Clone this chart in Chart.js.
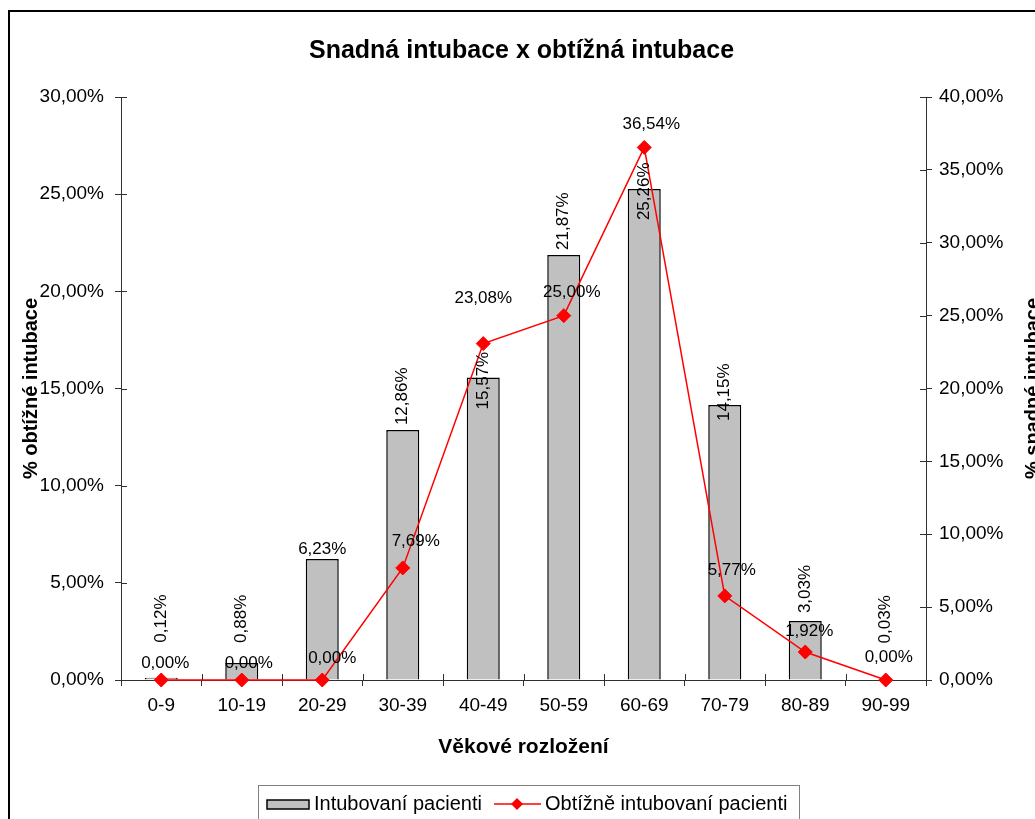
<!DOCTYPE html>
<html><head><meta charset="utf-8">
<script src="https://cdn.jsdelivr.net/npm/chart.js@4.4.1/dist/chart.umd.min.js"></script>
<style>html,body{margin:0;padding:0;background:#fff;overflow:hidden}#wrap{position:relative;width:1035px;height:819px}</style>
</head><body><div id="wrap"><canvas id="c"></canvas></div>
<script>
const chartTitle = 'Snadná intubace x obtížná intubace';
const xTitle = 'Věkové rozložení';
const yLeftTitle = '% obtížné intubace';
const yRightTitle = '% snadné intubace';
const seriesNames = ['Intubovaní pacienti', 'Obtížně intubovaní pacienti'];
const categories = ['0-9','10-19','20-29','30-39','40-49','50-59','60-69','70-79','80-89','90-99'];
const intubovani = [0.12, 0.88, 6.23, 12.86, 15.57, 21.87, 25.26, 14.15, 3.03, 0.03];
const obtizne = [0.00, 0.00, 0.00, 7.69, 23.08, 25.00, 36.54, 5.77, 1.92, 0.00];
const leftMax = 30, rightMax = 40, tickStep = 5;

// label placement tweaks (px), not data
const barLabelAngle = [-90,-90,0,-90,-90,-90,-90,-90,-90,-90];
const barLabelShift = [-29,-14,0,1,38,1,37,22,-2,-30];
const lineLabelDx = [4,7,10,13,0,8,7,7,4,3];
const lineLabelDy = [-17,-17,-22,-27,-45,-23,-23,-26,-21,-23];

const FONT = "'Liberation Sans', Arial, sans-serif";
const AXIS = '#303030';
const fmt = v => v.toFixed(2).replace('.', ',') + '%';

const decor = {
  id: 'decor',
  beforeDraw(chart) {
    const ctx = chart.ctx;
    ctx.save();
    ctx.fillStyle = '#fff';
    ctx.fillRect(0, 0, chart.width, chart.height);
    ctx.strokeStyle = '#000';
    ctx.lineWidth = 2;
    ctx.strokeRect(9, 11, chart.width + 20, chart.height + 20);
    ctx.restore();
  },
  afterDatasetsDraw(chart) {
    const ctx = chart.ctx;
    ctx.save();
    ctx.fillStyle = '#000';
    ctx.font = '17px ' + FONT;
    const bm = chart.getDatasetMeta(0);
    bm.data.forEach((el, i) => {
      const t = fmt(intubovani[i]);
      ctx.save();
      if (barLabelAngle[i] === -90) {
        ctx.translate(el.x, el.y - 6 + barLabelShift[i]);
        ctx.rotate(-Math.PI / 2);
        ctx.textAlign = 'left';
        ctx.textBaseline = 'middle';
        ctx.fillText(t, 0, 0);
      } else {
        ctx.textAlign = 'center';
        ctx.textBaseline = 'middle';
        ctx.fillText(t, el.x, el.y - 10 + barLabelShift[i]);
      }
      ctx.restore();
    });
    const lm = chart.getDatasetMeta(1);
    ctx.textAlign = 'center';
    ctx.textBaseline = 'middle';
    lm.data.forEach((el, i) => {
      ctx.fillText(fmt(obtizne[i]), el.x + lineLabelDx[i], el.y + lineLabelDy[i]);
    });
    ctx.restore();
  },
  afterDraw(chart) {
    const ctx = chart.ctx;
    const a = chart.chartArea;
    ctx.save();
    ctx.strokeStyle = AXIS;
    ctx.lineWidth = 1;
    ctx.beginPath();
    const yl = chart.scales.y, yr = chart.scales.y1, xs = chart.scales.x;
    yl.ticks.forEach((t, i) => { const p = Math.round(yl.getPixelForTick(i)) + 0.5; ctx.moveTo(a.left, p); ctx.lineTo(a.left + 6, p); });
    yr.ticks.forEach((t, i) => { const p = Math.round(yr.getPixelForTick(i)) + 0.5; ctx.moveTo(a.right - 6, p); ctx.lineTo(a.right, p); });
    for (let i = 0; i <= categories.length; i++) {
      const p = Math.round(xs.getPixelForValue(i - 0.5)) + 0.5;
      ctx.moveTo(p, a.bottom - 6); ctx.lineTo(p, a.bottom);
    }
    ctx.stroke();
    ctx.fillStyle = '#000';
    ctx.font = 'bold 20px ' + FONT;
    ctx.translate(1033, (a.top + a.bottom) / 2);
    ctx.rotate(-Math.PI / 2);
    ctx.textAlign = 'center';
    ctx.textBaseline = 'middle';
    ctx.fillText(yRightTitle, 0, 0);
    ctx.restore();
    // legend
    ctx.save();
    const ds = chart.data.datasets;
    ctx.strokeStyle = '#808080';
    ctx.lineWidth = 1;
    ctx.strokeRect(258.5, 785.5, 541, 60);
    const cy = 804;
    ctx.fillStyle = ds[0].backgroundColor;
    ctx.fillRect(267, 800, 42, 9);
    ctx.strokeStyle = ds[0].borderColor;
    ctx.lineWidth = 1.5;
    ctx.strokeRect(267, 800, 42, 9);
    ctx.font = '20px ' + FONT;
    ctx.fillStyle = '#000';
    ctx.textAlign = 'left';
    ctx.textBaseline = 'middle';
    ctx.fillText(ds[0].label, 314, cy);
    ctx.strokeStyle = ds[1].borderColor;
    ctx.lineWidth = 1.5;
    ctx.beginPath(); ctx.moveTo(494, cy); ctx.lineTo(541, cy); ctx.stroke();
    ctx.fillStyle = ds[1].pointBackgroundColor;
    ctx.beginPath();
    ctx.moveTo(517, cy - 6); ctx.lineTo(523, cy); ctx.lineTo(517, cy + 6); ctx.lineTo(511, cy); ctx.closePath(); ctx.fill();
    ctx.fillStyle = '#000';
    ctx.fillText(ds[1].label, 545, cy);
    ctx.restore();
  }
};

new Chart(document.getElementById('c'), {
  data: {
    labels: categories,
    datasets: [
      { type: 'bar', label: seriesNames[0], data: intubovani, yAxisID: 'y', order: 2,
        backgroundColor: '#C0C0C0', borderColor: '#000000', borderWidth: 1.5,
        barPercentage: 0.41, categoryPercentage: 1 },
      { type: 'line', label: seriesNames[1], data: obtizne, yAxisID: 'y1', order: 1,
        borderColor: '#FF0000', borderWidth: 1.5, tension: 0, clip: false,
        pointStyle: 'rectRot', pointRadius: 7, pointHoverRadius: 7,
        pointBackgroundColor: '#FF0000', pointBorderColor: '#FF0000', pointBorderWidth: 1 }
    ]
  },
  options: {
    responsive: true, maintainAspectRatio: false, animation: false, devicePixelRatio: 1,
    layout: { padding: { left: 8, right: 0, top: 10, bottom: 35 } },
    plugins: {
      legend: { display: false },
      tooltip: { enabled: false },
      title: { display: true, text: chartTitle, color: '#000',
        font: { family: FONT, size: 25, weight: 'bold' }, padding: { top: 26, bottom: 31 } }
    },
    scales: {
      x: {
        type: 'category', position: 'bottom', offset: true,
        grid: { drawOnChartArea: false, tickLength: 6, color: AXIS, offset: true },
        border: { color: AXIS, width: 1 },
        ticks: { color: '#000', font: { family: FONT, size: 19 }, padding: 8, maxRotation: 0, autoSkip: false },
        title: { display: true, text: xTitle, color: '#000', font: { family: FONT, size: 21, weight: 'bold' }, padding: { top: 0, bottom: 24 } },
        afterFit(s) { s.height = 104; }
      },
      y: {
        position: 'left', min: 0, max: leftMax,
        grid: { drawOnChartArea: false, tickLength: 6, color: AXIS },
        border: { color: AXIS, width: 1 },
        ticks: { stepSize: tickStep, color: '#000', font: { family: FONT, size: 19 }, padding: 11, callback: v => fmt(v) },
        title: { display: true, text: yLeftTitle, color: '#000', font: { family: FONT, size: 20, weight: 'bold' }, padding: { top: 11, bottom: 0 } },
        afterFit(s) { s.width = 113; }
      },
      y1: {
        position: 'right', min: 0, max: rightMax,
        grid: { drawOnChartArea: false, tickLength: 6, color: AXIS },
        border: { color: AXIS, width: 1 },
        ticks: { stepSize: tickStep, color: '#000', font: { family: FONT, size: 19 }, padding: 7, callback: v => fmt(v) },
        afterFit(s) { s.width = 109; }
      }
    }
  },
  plugins: [decor]
});
</script></body></html>
